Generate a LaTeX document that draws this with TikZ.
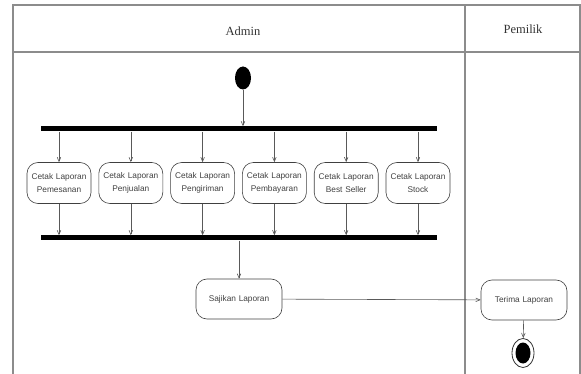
\documentclass[tikz,border=0pt]{standalone}
\usepackage{fontspec}
\setmainfont{Liberation Serif}
\setsansfont{Liberation Sans}
\usepackage{tikz}
\usetikzlibrary{shapes.geometric, arrows, positioning}

\begin{document}
\begin{tikzpicture}[x=1pt, y=-1pt, node distance=71.8pt]
\tikzstyle{lane} = [draw=black!45, line width=1.3pt]
\tikzstyle{header} = [font=\fontsize{12.5}{14}\selectfont, text=black!80]
\tikzstyle{startdot} = [ellipse, fill=black, minimum width=16pt, minimum height=23pt, inner sep=0pt]
\tikzstyle{bar} = [rectangle, fill=black, minimum width=396pt, minimum height=5pt, inner sep=0pt]
\tikzstyle{activity} = [rectangle, rounded corners=11pt, minimum width=64pt, minimum height=41pt, text width=62pt, align=center, inner sep=1pt, draw=black!75, line width=0.6pt, text=black!75, font=\sffamily\fontsize{8.3}{13.5}\selectfont]
\tikzstyle{endring} = [ellipse, draw=black!80, line width=0.8pt, minimum width=22pt, minimum height=29pt, inner sep=0pt]
\tikzstyle{enddot} = [ellipse, fill=black, minimum width=15pt, minimum height=21pt, inner sep=0pt]
\tikzstyle{arrow} = [draw=black!65, line width=0.6pt, ->, >=angle 45]

\useasboundingbox (0,0) rectangle (581,374);

% swimlanes
\draw [lane] (13,374) -- (13,5) -- (580,5) -- (580,374);
\draw [lane] (13,52) -- (580,52);
\draw [lane] (465,5) -- (465,374);
\node (admin) [header] at (243,31) {Admin};
\node (pemilik) [header] at (523,29) {Pemilik};

% admin
\node (start) [startdot] at (243,78) {};
\node (fork) [bar] at (239,129) {};
\node (pesan) [activity] at (59,183) {Cetak Laporan\\Pemesanan};
\node (jual) [activity, right of=pesan] {Cetak Laporan\\Penjualan};
\node (kirim) [activity, right of=jual] {Cetak Laporan\\Pengiriman};
\node (bayar) [activity, right of=kirim] {Cetak Laporan\\Pembayaran};
\node (best) [activity, right of=bayar] {Cetak Laporan\\Best Seller};
\node (stock) [activity, right of=best] {Cetak Laporan\\Stock};
\node (join) [bar] at (239,238) {};
\node (sajikan) [activity, text width=84pt, minimum width=86pt, minimum height=40pt] at (239,299) {Sajikan Laporan};

% pemilik
\node (terima) [activity, text width=84pt, minimum width=86pt, minimum height=40pt] at (524,300) {Terima Laporan};
\node (stop) [endring] at (523,353) {};
\node (stopdot) [enddot] at (stop) {};

\draw [arrow] (start) -- (start |- fork.north);
\foreach \act in {pesan, jual, kirim, bayar, best, stock} {
  \draw [arrow] (\act |- fork.south) -- (\act);
  \draw [arrow] (\act) -- (\act |- join.north);
}
\draw [arrow] (join.south) -- (sajikan);
\draw [arrow] (sajikan) -- (terima);
\draw [arrow] (terima) -- (stop);
\end{tikzpicture}
\end{document}
